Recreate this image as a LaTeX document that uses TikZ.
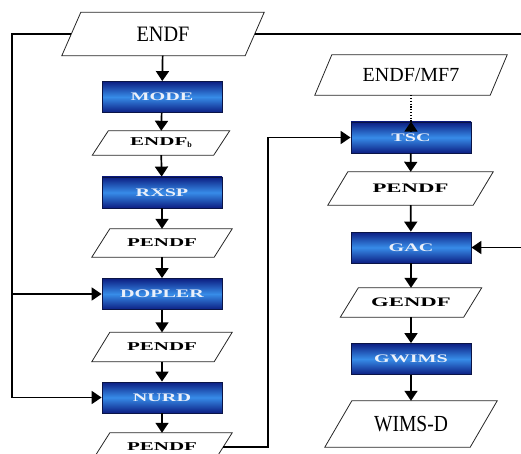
\documentclass[tikz,border=0pt]{standalone}
\usepackage{graphicx}
\usepackage{fontspec}
\setmainfont{Liberation Serif}
\usetikzlibrary{arrows.meta,calc}
\definecolor{boxdark}{RGB}{12,30,130}
\definecolor{boxmid}{RGB}{55,140,232}
\definecolor{boxedge}{RGB}{10,20,70}
\definecolor{boxtext}{RGB}{235,240,250}
\newcommand{\wideB}[1]{\scalebox{1.75}[1]{\bfseries #1}}
\newcommand{\parabox}[7]{%
  \node[paratext, minimum width=#4pt, minimum height=#5pt] (#1) at (#2,#3) {#7};
  \draw[paraline] ([xshift=-#6pt]#1.south west) -- ([xshift=-#6pt]#1.south east)
     -- ([xshift=#6pt]#1.north east) -- ([xshift=#6pt]#1.north west) -- cycle;
}
\tikzset{
  proc/.style={rectangle, minimum width=120pt, minimum height=31pt, inner sep=0pt,
    draw=boxedge, line width=0.8pt, top color=boxdark, bottom color=boxdark,
    middle color=boxmid, text=boxtext, font=\fontsize{11.5}{13}\selectfont},
  paratext/.style={inner sep=0pt, font=\fontsize{12}{14}\selectfont},
  paraline/.style={draw=black!85, line width=0.8pt},
  conn/.style={line width=1.7pt, -{Triangle[width=13pt,length=10pt]}},
  plain/.style={line width=1.7pt},
}
\begin{document}
\begin{tikzpicture}[x=1pt,y=-1pt]
\useasboundingbox (0,0) rectangle (521,454);
\clip (0,0) rectangle (521,454);
% left column
\parabox{endf}{163}{34}{183}{43}{9.5}{\fontsize{22}{24}\selectfont\scalebox{0.92}[1]{ENDF}}
\node[proc] (mode) at (162,97) {\wideB{MODE}};
\parabox{endfb}{161}{143}{121}{24}{8}{\wideB{ENDF}\raisebox{-2pt}{\fontsize{8}{9}\selectfont\bfseries b}}
\node[proc] (rxsp) at (162,192.5) {\wideB{RXSP}};
\parabox{pendfa}{162}{243}{122}{28}{9}{\wideB{PENDF}}
\node[proc] (dopler) at (162,294) {\wideB{DOPLER}};
\parabox{pendfb}{162}{347}{122}{29}{9}{\wideB{PENDF}}
\node[proc] (nurd) at (162,397.5) {\wideB{NURD}};
\parabox{pendfc}{162}{447}{122}{28}{9}{\wideB{PENDF}}
% right column
\parabox{mfseven}{411}{75}{175}{40}{8.5}{\fontsize{20}{22}\selectfont ENDF/MF7}
\node[proc] (tsc) at (411,137.5) {\wideB{TSC}};
\parabox{pendfr}{410.5}{188.5}{145}{33}{10}{\fontsize{13}{15}\selectfont\wideB{PENDF}}
\node[proc] (gac) at (411,247.5) {\wideB{GAC}};
\parabox{gendf}{411}{302.5}{123}{29}{9}{\fontsize{13}{15}\selectfont\wideB{GENDF}}
\node[proc] (gwims) at (411,359) {\wideB{GWIMS}};
\parabox{wimsd}{411}{424}{145}{46}{13.5}{\fontsize{23}{25}\selectfont\scalebox{0.85}[1]{WIMS-D}}
% connectors left
\draw[conn] (endf) -- (mode);
\draw[conn] (mode) -- (endfb);
\draw[conn] (endfb) -- (rxsp);
\draw[conn] (rxsp) -- (pendfa);
\draw[conn] (pendfa) -- (dopler);
\draw[conn] (dopler) -- (pendfb);
\draw[conn] (pendfb) -- (nurd);
\draw[conn] (nurd) -- (pendfc);
\coordinate (lx) at (12,34);
\draw[plain] (endf.west) -- (lx) -- (lx |- nurd.west);
\draw[conn] (lx |- dopler.west) -- (dopler.west);
\draw[conn] (lx |- nurd.west) -- (nurd.west);
% top line to GAC
\coordinate (rx) at (526,34);
\draw[plain] (endf.east) -- (rx) -- (rx |- gac.east);
\draw[conn] (rx |- gac.east) -- (gac.east);
% PENDF to TSC
\coordinate (mx) at (268,447);
\draw[plain] (pendfc.east) -- (mx) -- (mx |- tsc.west);
\draw[conn] (mx |- tsc.west) -- (tsc.west);
% right column
\draw[line width=1.3pt, dash pattern=on 1.3pt off 1.5pt] (mfseven.south) -- ([yshift=-9pt]tsc.north);
\draw[conn] ([yshift=-9pt]tsc.north) -- (tsc.north);
\draw[conn] (tsc) -- (pendfr);
\draw[conn] (pendfr) -- (gac);
\draw[conn] (gac) -- (gendf);
\draw[conn] (gendf) -- (gwims);
\draw[conn] (gwims) -- (wimsd);
\end{tikzpicture}
\end{document}
